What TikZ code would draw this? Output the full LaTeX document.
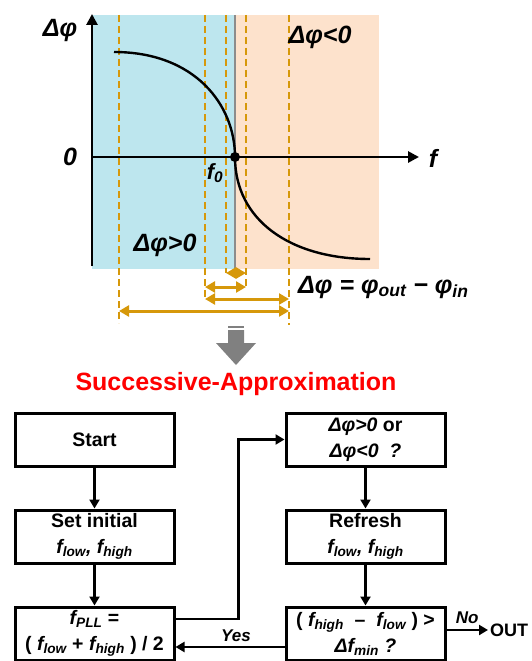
\documentclass[tikz,border=0pt]{standalone}
\usepackage{fontspec}
\setmainfont{Liberation Sans}
\usetikzlibrary{positioning, arrows.meta}
\definecolor{bandblue}{RGB}{189,230,238}
\definecolor{bandpeach}{RGB}{253,226,204}
\definecolor{stepgold}{RGB}{214,152,10}
\definecolor{markgray}{RGB}{140,140,140}
\definecolor{titlered}{RGB}{255,0,0}
\definecolor{blockgray}{RGB}{128,128,128}

\begin{document}
\begin{tikzpicture}[x=1pt, y=-1pt,
    every node/.style={font=\bfseries, align=center, inner sep=0pt},
    lbl/.style  ={font=\fontsize{25}{28}\selectfont\bfseries\itshape},
    box/.style  ={draw, line width=3pt, minimum width=159pt, minimum height=53pt, font=\fontsize{19.5}{26}\selectfont\bfseries},
    flow/.style ={-{Triangle[width=10pt,length=9pt]}, line width=2.6pt},
    axis/.style ={-{Triangle[width=11pt,length=11pt]}, line width=2.8pt},
    guide/.style={draw=stepgold, line width=2.2pt, dash pattern=on 7pt off 4pt},
    span/.style ={{Triangle[width=11pt,length=10pt]}-{Triangle[width=11pt,length=10pt]}, draw=stepgold, line width=3pt},
    node distance=41pt and 109pt
]
\useasboundingbox (0,0) rectangle (532,661);

% ========== PHASE PLOT: bands and guides ==========
\fill[bandblue]  (92,15) rectangle (235,269);
\fill[bandpeach] (235,15) rectangle (379,269);
\draw[markgray, line width=1.6pt] (235,15) -- (235,273);
\foreach \x/\yend in {119/323, 205/300, 226/273, 246/288, 289/325}
    \draw[guide] (\x,15) -- (\x,\yend);

% ========== PHASE PLOT: axes and curve ==========
\draw[axis] (92,266) -- (92,14);
\draw[axis] (92,157) -- (419,157);
\draw[line width=2.4pt] (114,52) .. controls (195,52) and (235,105) .. (235,157)
    .. controls (235,220) and (290,259) .. (370,259);
\fill (235,157) circle (5pt);

\node[lbl] (dphi) at (60,30)  {Δφ};
\node[lbl] (zero) at (70,157) {0};
\node[lbl] (faxis) at (433,158) {f};
\node[lbl, font=\fontsize{22}{24}\selectfont\bfseries\itshape] (fzero) at (215,173) {f\textsubscript{0}};
\node[lbl] (neg) at (320,37)  {Δφ<0};
\node[lbl] (pos) at (165,245) {Δφ>0};
\node[lbl, anchor=west] (defn) at (298,287) {Δφ = φ\textsubscript{out} − φ\textsubscript{in}};

% ========== PHASE PLOT: search steps ==========
\foreach \xa/\xb/\y in {226/246/273, 205/246/287, 205/289/299, 119/289/311}
    \draw[span] (\xa,\y) -- (\xb,\y);

% ========== BLOCK ARROW + TITLE ==========
\fill[blockgray] (228,326) rectangle (244,328);
\fill[blockgray] (228,330) -- (244,330) -- (244,343) -- (256,343) -- (236,365)
    -- (216,343) -- (228,343) -- cycle;
\node[text=titlered, font=\fontsize{25}{28}\selectfont\bfseries] (title) at (236,384) {Successive-Approximation};

% ========== FLOWCHART ==========
\node[box] (start) at (94.5,439.5) {Start};
\node[box, below=of start] (init)  {Set initial\\\textit{f\textsubscript{low}, f\textsubscript{high}}};
\node[box, below=of init]  (fpll)  {\textit{f\textsubscript{PLL}} =\\( \textit{f\textsubscript{low}} + \textit{f\textsubscript{high}} ) / 2};
\node[box, right=of start] (check) {\textit{Δφ>0} or\\\textit{Δφ<0 \ ?}};
\node[box, right=of init]  (refresh) {Refresh\\\textit{f\textsubscript{low}, f\textsubscript{high}}};
\node[box, right=of fpll]  (cond)  {( \textit{f\textsubscript{high}} \ – \ \textit{f\textsubscript{low}} ) >\\\textit{Δf\textsubscript{min} ?}};
\node[font=\fontsize{18}{20}\selectfont\bfseries, anchor=west] (out) at (490,630) {OUT};

% ========== CONNECTORS ==========
\draw[flow] (start) -- (init);
\draw[flow] (init) -- (fpll);
\draw[flow] (check) -- (refresh);
\draw[flow] (refresh) -- (cond);
\draw[flow] ([yshift=14.5pt]fpll.east) -- ++(63pt,0) |- (check.west);
\draw[flow] ([yshift=-13.5pt]cond.west) --
    node[above=4pt, xshift=6pt, font=\fontsize{17}{20}\selectfont\bfseries\itshape] {Yes}
    ([yshift=-13.5pt]fpll.east);
\draw[flow] ([yshift=3.5pt]cond.east) --
    node[above=5pt, font=\fontsize{17}{20}\selectfont\bfseries\itshape] {No}
    ([xshift=-2pt]out.west);

\end{tikzpicture}
\end{document}
